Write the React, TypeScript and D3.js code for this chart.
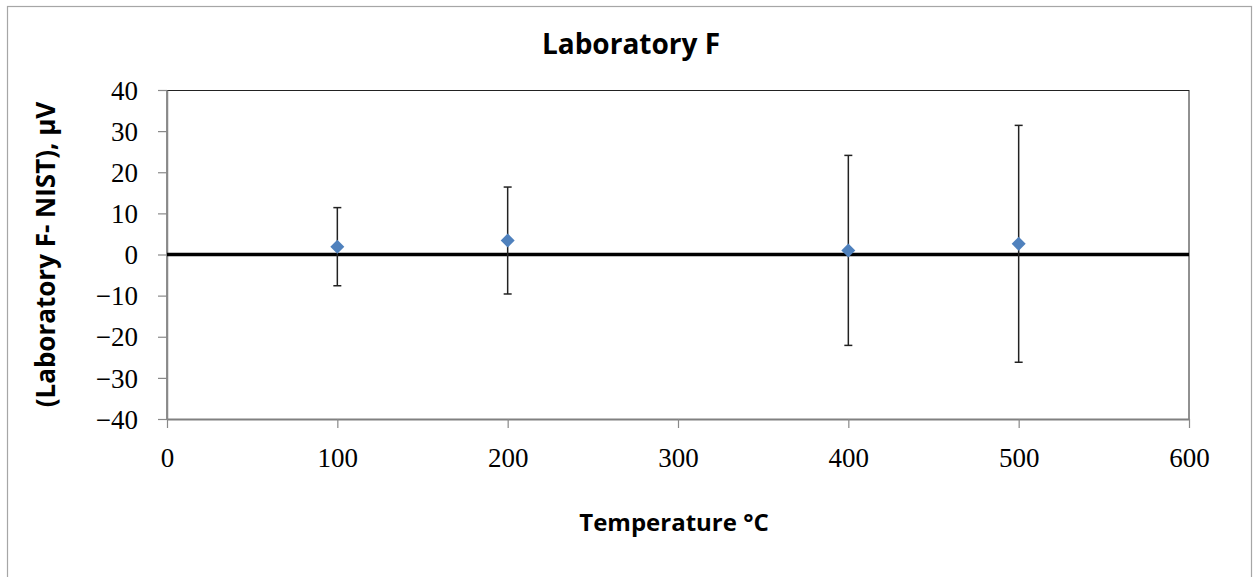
import React, { useRef, useEffect } from 'react';
import * as d3 from 'd3';

const temps = [100, 200, 400, 500];
const diffs = [1.9, 3.4, 1.0, 2.6];
const uncert = [9.5, 13.0, 23.1, 28.8];
const xTicks = [0, 100, 200, 300, 400, 500, 600];
const yTicks = [-40, -30, -20, -10, 0, 10, 20, 30, 40];

const App = () => {
  const svgRef = useRef<SVGSVGElement>(null);

  useEffect(() => {
    const W = 1254;
    const H = 577;
    const margin = { top: 90, right: 65, bottom: 158, left: 167 };
    const width = W - margin.left - margin.right;
    const height = H - margin.top - margin.bottom;

    const svg = d3.select(svgRef.current)
      .attr('width', W)
      .attr('height', H);

    svg.selectAll('*').remove();

    svg.append('rect')
      .attr('width', W).attr('height', H).attr('fill', '#fff');

    // chart area border
    svg.append('rect')
      .attr('x', 7.5).attr('y', 6.5)
      .attr('width', 1244).attr('height', 620)
      .attr('fill', 'none')
      .attr('stroke', '#a6a6a6')
      .attr('stroke-width', 1.2);

    const x = d3.scaleLinear().domain([0, 600]).range([0, width]);
    const y = d3.scaleLinear().domain([-40, 40]).range([height, 0]);

    const chart = svg.append('g')
      .attr('transform', `translate(${margin.left},${margin.top})`);

    // plot area outline
    chart.append('rect')
      .attr('x', 0).attr('y', 0.5)
      .attr('width', width).attr('height', height)
      .attr('fill', 'none')
      .attr('stroke', '#222')
      .attr('stroke-width', 1);

    const tickFont = '"Liberation Serif", "Times New Roman", serif';

    // y axis
    const yAxis = chart.append('g')
      .call(d3.axisLeft(y).tickValues(yTicks).tickSize(9).tickSizeOuter(0)
        .tickFormat(d => (+d < 0 ? `\u2212${Math.abs(+d)}` : `${d}`)));
    yAxis.select('.domain').attr('stroke', '#898989').attr('stroke-width', 1.5);
    yAxis.selectAll('.tick line').attr('stroke', '#898989').attr('stroke-width', 1.2);
    yAxis.selectAll('.tick text')
      .attr('x', -29)
      .attr('dy', '0.34em')
      .attr('fill', '#000')
      .style('font-family', tickFont)
      .style('font-size', '27px');

    // x axis
    const xAxis = chart.append('g')
      .attr('transform', `translate(0,${height})`)
      .call(d3.axisBottom(x).tickValues(xTicks).tickSize(9).tickSizeOuter(0));
    xAxis.select('.domain').attr('stroke', '#808080').attr('stroke-width', 2);
    xAxis.selectAll('.tick line').attr('stroke', '#898989').attr('stroke-width', 1.2);
    xAxis.selectAll('.tick text')
      .attr('y', 29)
      .attr('fill', '#000')
      .style('font-family', tickFont)
      .style('font-size', '27px');

    // zero line
    chart.append('line')
      .attr('x1', 0).attr('x2', width)
      .attr('y1', y(0)).attr('y2', y(0))
      .attr('stroke', '#000')
      .attr('stroke-width', 3.5);

    const pts = temps.map((t, i) => ({ t, v: diffs[i], u: uncert[i] }));

    // error bars
    const eb = chart.selectAll('.err')
      .data(pts)
      .enter()
      .append('g')
      .attr('stroke', '#222')
      .attr('stroke-width', 1.5);
    eb.append('line')
      .attr('x1', d => x(d.t)).attr('x2', d => x(d.t))
      .attr('y1', d => y(d.v + d.u)).attr('y2', d => y(d.v - d.u));
    eb.append('line')
      .attr('x1', d => x(d.t) - 4).attr('x2', d => x(d.t) + 4)
      .attr('y1', d => y(d.v + d.u)).attr('y2', d => y(d.v + d.u));
    eb.append('line')
      .attr('x1', d => x(d.t) - 4).attr('x2', d => x(d.t) + 4)
      .attr('y1', d => y(d.v - d.u)).attr('y2', d => y(d.v - d.u));

    // diamond markers
    chart.selectAll('.pt')
      .data(pts)
      .enter()
      .append('path')
      .attr('transform', d => `translate(${x(d.t)},${y(d.v)})`)
      .attr('d', 'M0,-7L7,0L0,7L-7,0Z')
      .attr('fill', '#4f81bd');

    const labelFont = '"Open Sans", "Noto Sans", sans-serif';

    // title, centred on the whole chart area
    svg.append('text')
      .attr('x', 631)
      .attr('y', 54)
      .attr('text-anchor', 'middle')
      .style('font-family', labelFont)
      .style('font-weight', 'bold')
      .style('font-size', '28px')
      .text('Laboratory F');

    // axis titles
    svg.append('text')
      .attr('x', margin.left + width / 2 - 4)
      .attr('y', 531)
      .attr('text-anchor', 'middle')
      .style('font-family', labelFont)
      .style('font-weight', 'bold')
      .style('font-size', '24px')
      .text('Temperature \u00B0C');

    svg.append('text')
      .attr('transform', `translate(55,${margin.top + height / 2}) rotate(-90)`)
      .attr('text-anchor', 'middle')
      .style('font-family', labelFont)
      .style('font-weight', 'bold')
      .style('font-size', '26px')
      .text('(Laboratory F- NIST), \u00B5V');
  }, []);

  return (
    <svg ref={svgRef} style={{ position: 'absolute', left: 0, top: 0 }}></svg>
  );
};

export default App;
